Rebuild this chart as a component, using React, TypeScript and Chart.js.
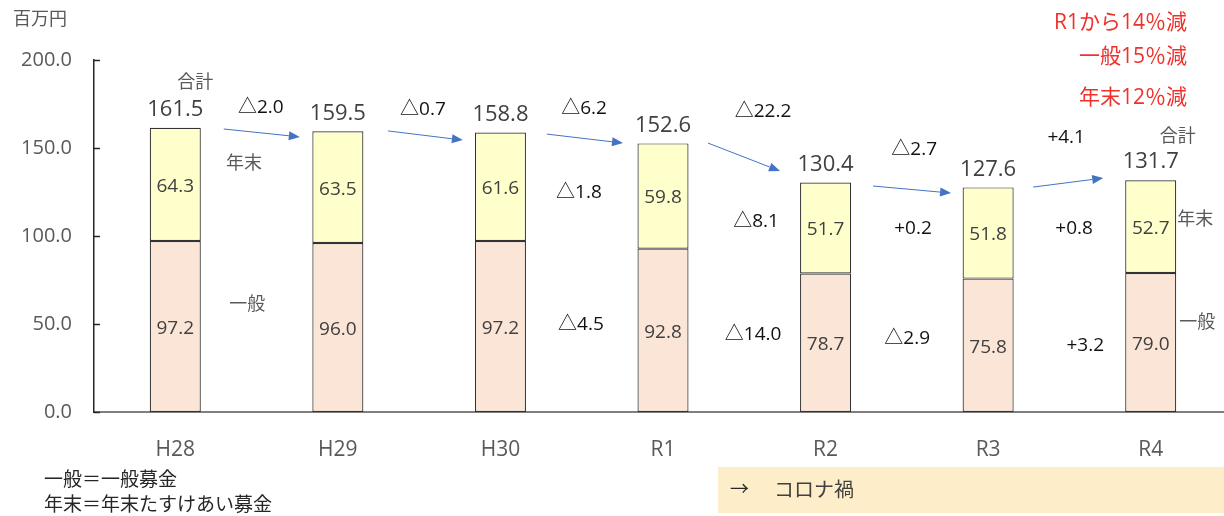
import { useEffect, useRef } from "react";
import { Chart, registerables } from "chart.js";

Chart.register(...registerables);

// Fiscal years
const categories = ["H28", "H29", "H30", "R1", "R2", "R3", "R4"];
// 一般募金 (百万円)
const ippan = [97.2, 96.0, 97.2, 92.8, 78.7, 75.8, 79.0];
// 年末たすけあい募金 (百万円)
const nenmatsu = [64.3, 63.5, 61.6, 59.8, 51.7, 51.8, 52.7];
// 合計 (百万円)
const totals = [161.5, 159.5, 158.8, 152.6, 130.4, 127.6, 131.7];

const yMin = 0;
const yMax = 200;
const yStep = 50;

// Year-over-year changes
const totalChange = ["△2.0", "△0.7", "△6.2", "△22.2", "△2.7", "+4.1"];
const nenmatsuChange = ["△1.8", "△8.1", "+0.2", "+0.8"]; // R1 → R4
const ippanChange = ["△4.5", "△14.0", "△2.9", "+3.2"]; // R1 → R4

const summaryLines = ["R1から14％減", "一般15％減", "年末12％減"];
const glossary = ["一般＝一般募金", "年末＝年末たすけあい募金"];
const unitLabel = "百万円";
const periodArrow = "→";
const periodLabel = "コロナ禍";

// Placement of the annotations, as [category position, axis value]
const totalChangeAt = [
  [0.526, 172.7], [1.523, 171.6], [2.514, 172.2], [3.615, 170.5], [4.545, 148.9], [5.48, 155.7],
];
const nenmatsuChangeAt = [[2.483, 124.4], [3.572, 108.0], [4.538, 104.0], [5.529, 104.0]];
const ippanChangeAt = [[2.495, 49.4], [3.554, 43.75], [4.502, 41.5], [5.597, 37.5]];
const seriesTags: [string, number, number][] = [
  ["合計", 0.123, 186.9],
  ["年末", 0.422, 140.9],
  ["一般", 0.443, 60.8],
  ["合計", 6.166, 156.25],
  ["年末", 6.274, 109.1],
  ["一般", 6.286, 50.6],
];
// Trend arrows between totals: [from pos, from value, to pos, to value]
const trendArrows = [
  [0.298, 160.8, 0.766, 156.3],
  [1.308, 159.7, 1.769, 154.5],
  [2.286, 157.9, 2.754, 152.8],
  [3.277, 152.8, 3.72, 136.9],
  [4.292, 128.4, 4.772, 124.4],
  [5.277, 127.8, 5.708, 132.9],
];

const FONT = '"Open Sans", "Noto Sans CJK JP", sans-serif';
const GRAY = "#595959";

function drawArrow(ctx: CanvasRenderingContext2D, x1: number, y1: number, x2: number, y2: number) {
  const ang = Math.atan2(y2 - y1, x2 - x1);
  const len = 11;
  const half = 4.5;
  const bx = x2 - len * Math.cos(ang);
  const by = y2 - len * Math.sin(ang);
  ctx.save();
  ctx.strokeStyle = "#4472C4";
  ctx.fillStyle = "#4472C4";
  ctx.lineWidth = 1;
  ctx.beginPath();
  ctx.moveTo(x1, y1);
  ctx.lineTo(bx, by);
  ctx.stroke();
  ctx.beginPath();
  ctx.moveTo(x2, y2);
  ctx.lineTo(bx - half * Math.sin(ang), by + half * Math.cos(ang));
  ctx.lineTo(bx + half * Math.sin(ang), by - half * Math.cos(ang));
  ctx.closePath();
  ctx.fill();
  ctx.restore();
}

const annotations = {
  id: "annotations",
  afterDraw(chart: any) {
    const { ctx, scales } = chart;
    const xs = scales.x;
    const ys = scales.y;
    const x0 = xs.getPixelForValue(0);
    const step = xs.getPixelForValue(1) - x0;
    const px = (p: number) => x0 + p * step;
    const py = (v: number) => ys.getPixelForValue(v);

    const text = (s: string, x: number, y: number, size: number, color: string, align: CanvasTextAlign = "center") => {
      ctx.font = `${size}px ${FONT}`;
      ctx.fillStyle = color;
      ctx.textAlign = align;
      ctx.textBaseline = "middle";
      ctx.fillText(s, x, y);
    };

    ctx.save();

    // inward tick marks on the value axis
    ctx.strokeStyle = "#262626";
    ctx.lineWidth = 1.5;
    for (let v = yMin; v <= yMax; v += yStep) {
      const y = Math.round(py(v)) + 0.5;
      ctx.beginPath();
      ctx.moveTo(xs.left, y);
      ctx.lineTo(xs.left + 6, y);
      ctx.stroke();
    }

    // segment values and totals
    const bottomMeta = chart.getDatasetMeta(0);
    const topMeta = chart.getDatasetMeta(1);
    bottomMeta.data.forEach((el: any, i: number) => {
      text(ippan[i].toFixed(1), el.x, (el.y + el.base) / 2 + 2, 19, "#404040");
    });
    topMeta.data.forEach((el: any, i: number) => {
      text(nenmatsu[i].toFixed(1), el.x, (el.y + el.base) / 2 + 2, 19, "#404040");
      text(totals[i].toFixed(1), el.x, el.y - 18, 22, "#404040");
    });

    // changes
    totalChange.forEach((s, i) => text(s, px(totalChangeAt[i][0]), py(totalChangeAt[i][1]), 19, "#111"));
    nenmatsuChange.forEach((s, i) => text(s, px(nenmatsuChangeAt[i][0]), py(nenmatsuChangeAt[i][1]), 19, "#111"));
    ippanChange.forEach((s, i) => text(s, px(ippanChangeAt[i][0]), py(ippanChangeAt[i][1]), 19, "#111"));

    // series tags
    seriesTags.forEach(([s, p, v]) => text(s, px(p), py(v), 18, GRAY));

    // trend arrows
    trendArrows.forEach(([p1, v1, p2, v2]) => drawArrow(ctx, px(p1), py(v1), px(p2), py(v2)));

    // unit
    text(unitLabel, 13, 20, 18, GRAY, "left");

    // summary in red
    const summaryY = [23, 57, 98];
    summaryLines.forEach((s, i) => text(s, 1187, summaryY[i], 21, "#F0302A", "right"));

    // glossary
    glossary.forEach((s, i) => text(s, 44, 481 + i * 25, 19, "#262626", "left"));

    // period box
    ctx.fillStyle = "#FDEDC9";
    ctx.fillRect(718, 467, 530, 46);
    text(periodArrow, 730, 491, 19, "#262626", "left");
    text(periodLabel, 774, 491, 20, "#404040", "left");

    ctx.restore();
  },
};

export default function App() {
  const ref = useRef<HTMLCanvasElement>(null);

  useEffect(() => {
    if (!ref.current) return;
    const chart = new Chart(ref.current, {
      type: "bar",
      data: {
        labels: categories,
        datasets: [
          {
            label: "一般",
            data: ippan,
            backgroundColor: "#FBE5D6",
            borderColor: "#333333",
            borderWidth: 1.2,
            borderSkipped: false,
          },
          {
            label: "年末",
            data: nenmatsu,
            backgroundColor: "#FFFFCC",
            borderColor: "#333333",
            borderWidth: 1.2,
            borderSkipped: false,
          },
        ],
      },
      options: {
        responsive: false,
        animation: false,
        devicePixelRatio: 1,
        layout: { padding: { top: 60, right: 8, left: 0, bottom: 0 } },
        datasets: { bar: { categoryPercentage: 1, barPercentage: 0.314 } },
        plugins: { legend: { display: false }, tooltip: { enabled: false } },
        scales: {
          x: {
            stacked: true,
            grid: { display: false },
            border: { display: true, color: "#7F7F7F", width: 2 },
            ticks: { color: GRAY, font: { size: 21, family: FONT }, padding: 17 },
            afterFit: (s: any) => {
              s.height = 104;
            },
          },
          y: {
            stacked: true,
            min: yMin,
            max: yMax,
            grid: { display: false },
            border: { display: true, color: "#262626", width: 1.5 },
            ticks: {
              stepSize: yStep,
              color: GRAY,
              font: { size: 20, family: FONT },
              padding: 14,
              callback: (v: any) => Number(v).toFixed(1),
            },
            afterFit: (s: any) => {
              s.width = 94;
            },
          },
        },
      },
      plugins: [annotations],
    } as any);
    return () => chart.destroy();
  }, []);

  return (
    <div
      style={{
        position: "fixed",
        left: 0,
        top: 0,
        width: 1224,
        height: 516,
        overflow: "hidden",
        background: "#fff",
      }}
    >
      <canvas ref={ref} width={1240} height={516} style={{ display: "block" }} />
    </div>
  );
}
